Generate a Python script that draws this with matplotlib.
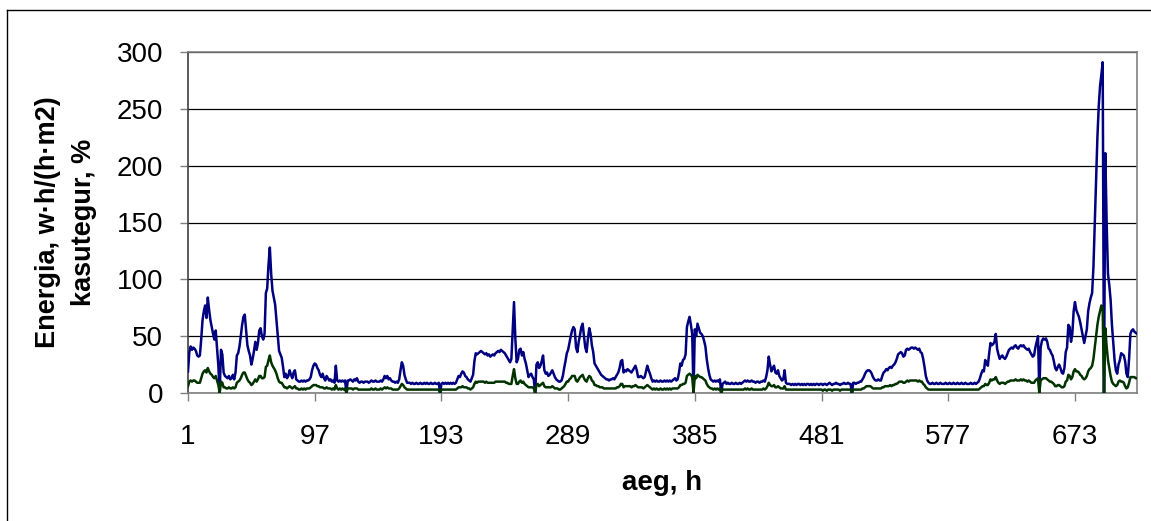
import numpy as np
import matplotlib
matplotlib.use("Agg")
import matplotlib.pyplot as plt
from matplotlib.lines import Line2D

plt.rcParams['font.family'] = ['Liberation Sans', 'DejaVu Sans']

# hourly energy, w·h/(h·m2) -- one row per day
energia = [
    19, 36, 41, 38, 40, 39, 37, 33, 32, 33, 47, 64, 72, 77, 66, 84, 73, 64, 58, 52, 47, 55, 40, 24,
    0, 38, 34, 18, 15, 14, 13, 15, 12, 13, 16, 12, 18, 33, 35, 41, 50, 60, 67, 69, 56, 42, 37, 33,
    25, 30, 37, 45, 38, 44, 55, 57, 50, 47, 52, 88, 92, 113, 128, 105, 90, 84, 78, 64, 50, 37, 34, 31,
    23, 14, 17, 13, 15, 20, 16, 13, 18, 20, 12, 11, 10, 10, 11, 10, 11, 10, 11, 11, 12, 14, 20, 24,
    26, 25, 22, 20, 16, 14, 17, 13, 11, 15, 13, 11, 12, 10, 11, 9, 24, 11, 10, 11, 10, 11, 10, 11,
    0, 11, 11, 12, 11, 10, 12, 11, 13, 10, 9, 10, 10, 9, 10, 10, 10, 9, 10, 11, 10, 10, 11, 10,
    10, 10, 11, 10, 12, 15, 13, 15, 12, 13, 11, 10, 10, 9, 10, 9, 12, 20, 27, 24, 16, 12, 9, 9,
    9, 8, 9, 8, 8, 9, 8, 8, 9, 8, 8, 9, 8, 9, 8, 8, 9, 8, 8, 9, 8, 8, 9, 0,
    8, 9, 8, 9, 8, 9, 8, 9, 8, 9, 8, 9, 12, 15, 14, 17, 19, 18, 15, 14, 12, 11, 10, 13,
    16, 28, 35, 34, 35, 36, 37, 36, 35, 34, 35, 33, 34, 32, 33, 34, 33, 35, 36, 37, 36, 38, 37, 36,
    35, 33, 31, 29, 27, 30, 55, 80, 48, 27, 30, 38, 39, 33, 36, 30, 26, 20, 14, 16, 17, 14, 12, 0,
    25, 27, 22, 24, 28, 33, 20, 17, 18, 15, 16, 18, 20, 17, 14, 12, 11, 10, 10, 11, 15, 22, 28, 35,
    38, 44, 50, 55, 58, 56, 40, 36, 45, 51, 58, 61, 50, 40, 36, 48, 57, 52, 42, 36, 26, 24, 22, 20,
    18, 16, 15, 14, 13, 12, 12, 11, 12, 12, 13, 12, 14, 16, 18, 22, 28, 29, 18, 20, 19, 21, 20, 19,
    18, 20, 22, 24, 20, 14, 14, 15, 14, 13, 14, 19, 24, 20, 17, 13, 10, 11, 10, 11, 10, 10, 11, 10,
    10, 11, 10, 11, 10, 11, 10, 11, 12, 13, 11, 12, 18, 26, 24, 29, 30, 34, 58, 63, 67, 60, 52, 0,
    56, 50, 61, 57, 53, 52, 50, 46, 41, 30, 22, 16, 12, 11, 10, 11, 10, 11, 10, 12, 0, 8, 9, 10,
    8, 9, 8, 8, 9, 8, 8, 9, 8, 8, 9, 8, 9, 10, 11, 10, 11, 10, 10, 11, 10, 10, 9, 10,
    10, 9, 10, 10, 11, 10, 14, 20, 32, 25, 19, 22, 24, 18, 17, 20, 15, 13, 11, 12, 20, 9, 8, 8,
    8, 7, 8, 7, 8, 7, 8, 8, 7, 8, 7, 8, 7, 8, 8, 7, 8, 7, 8, 7, 8, 8, 7, 8,
    8, 7, 8, 8, 7, 8, 9, 8, 7, 8, 8, 9, 8, 8, 7, 8, 8, 9, 8, 8, 9, 8, 8, 0,
    9, 9, 8, 9, 9, 10, 10, 12, 14, 17, 19, 20, 20, 19, 17, 14, 12, 11, 11, 12, 11, 11, 15, 18,
    19, 21, 20, 22, 23, 22, 24, 25, 27, 30, 34, 35, 36, 35, 32, 33, 38, 39, 38, 39, 40, 40, 39, 40,
    39, 38, 39, 36, 35, 30, 23, 15, 11, 9, 8, 8, 9, 8, 8, 9, 8, 8, 9, 8, 8, 8, 9, 8,
    8, 9, 8, 8, 9, 8, 8, 9, 8, 8, 9, 8, 8, 9, 8, 8, 8, 9, 8, 8, 9, 8, 9, 10,
    13, 17, 20, 19, 29, 26, 24, 35, 44, 42, 43, 45, 52, 39, 34, 30, 32, 33, 31, 30, 32, 35, 38, 39,
    40, 39, 41, 42, 40, 39, 41, 42, 41, 42, 40, 39, 38, 39, 36, 34, 32, 33, 40, 45, 50, 0, 40, 46,
    48, 47, 48, 45, 39, 38, 35, 33, 28, 22, 20, 23, 25, 22, 18, 17, 22, 36, 40, 60, 58, 45, 52, 72,
    80, 73, 70, 67, 62, 56, 50, 44, 50, 56, 72, 79, 84, 88, 111, 149, 187, 225, 252, 270, 280, 291, 0, 211,
    150, 105, 95, 82, 60, 45, 29, 20, 17, 25, 29, 35, 34, 33, 28, 17, 14, 30, 52, 55, 56, 54, 53, 52,
]

# hourly efficiency, %
kasutegur = [
    6, 10, 11, 10, 11, 11, 10, 9, 9, 9, 13, 17, 19, 20, 18, 22, 19, 17, 16, 14, 13, 15, 11, 7,
    0, 10, 9, 5, 5, 4, 4, 5, 4, 4, 5, 4, 5, 9, 10, 11, 13, 16, 18, 18, 15, 12, 10, 9,
    7, 8, 10, 12, 10, 12, 15, 15, 13, 13, 14, 23, 24, 29, 33, 27, 24, 22, 20, 17, 13, 10, 9, 9,
    7, 5, 5, 4, 5, 6, 5, 4, 5, 6, 4, 4, 3, 3, 4, 3, 4, 3, 4, 4, 4, 5, 6, 7,
    7, 7, 6, 6, 5, 5, 5, 4, 4, 5, 4, 4, 4, 3, 4, 3, 7, 4, 3, 4, 3, 4, 3, 4,
    0, 4, 4, 4, 4, 3, 4, 4, 4, 3, 3, 3, 3, 3, 3, 3, 3, 3, 3, 4, 3, 3, 4, 3,
    3, 3, 4, 3, 4, 5, 4, 5, 4, 4, 4, 3, 3, 3, 3, 3, 4, 6, 8, 7, 5, 4, 3, 3,
    3, 3, 3, 3, 3, 3, 3, 3, 3, 3, 3, 3, 3, 3, 3, 3, 3, 3, 3, 3, 3, 3, 3, 0,
    3, 3, 3, 3, 3, 3, 3, 3, 3, 3, 3, 3, 4, 5, 5, 5, 6, 5, 5, 5, 4, 4, 3, 4,
    5, 8, 10, 9, 10, 10, 10, 10, 10, 9, 10, 9, 9, 9, 9, 9, 9, 10, 10, 10, 10, 10, 10, 10,
    10, 9, 9, 8, 8, 8, 15, 21, 13, 8, 8, 10, 11, 9, 10, 8, 7, 6, 5, 5, 5, 5, 4, 0,
    7, 8, 6, 7, 8, 9, 6, 5, 5, 5, 5, 5, 6, 5, 4, 4, 4, 3, 3, 4, 5, 6, 8, 10,
    10, 12, 13, 15, 15, 15, 11, 10, 12, 14, 15, 16, 13, 11, 10, 13, 15, 14, 11, 10, 7, 7, 6, 6,
    5, 5, 5, 4, 4, 4, 4, 4, 4, 4, 4, 4, 4, 5, 5, 6, 8, 8, 5, 6, 6, 6, 6, 6,
    5, 6, 6, 7, 6, 5, 5, 5, 5, 4, 5, 6, 7, 6, 5, 4, 3, 4, 3, 4, 3, 3, 4, 3,
    3, 4, 3, 4, 3, 4, 3, 4, 4, 4, 4, 4, 5, 7, 7, 8, 8, 9, 15, 16, 17, 16, 14, 0,
    15, 13, 16, 15, 14, 14, 13, 12, 11, 8, 6, 5, 4, 4, 3, 4, 3, 4, 3, 4, 0, 3, 3, 3,
    3, 3, 3, 3, 3, 3, 3, 3, 3, 3, 3, 3, 3, 3, 4, 3, 4, 3, 3, 4, 3, 3, 3, 3,
    3, 3, 3, 3, 4, 3, 4, 6, 9, 7, 6, 6, 7, 5, 5, 6, 5, 4, 4, 4, 6, 3, 3, 3,
    3, 3, 3, 3, 3, 3, 3, 3, 3, 3, 3, 3, 3, 3, 3, 3, 3, 3, 3, 3, 3, 3, 3, 3,
    3, 2, 3, 3, 2, 3, 3, 3, 2, 3, 3, 3, 3, 3, 2, 3, 3, 3, 3, 3, 3, 3, 3, 0,
    3, 3, 3, 3, 3, 3, 3, 4, 4, 5, 6, 6, 6, 6, 5, 4, 4, 4, 4, 4, 4, 4, 5, 5,
    6, 6, 6, 6, 7, 6, 7, 7, 8, 8, 9, 10, 10, 10, 9, 9, 10, 11, 10, 11, 11, 11, 11, 11,
    11, 10, 11, 10, 10, 8, 7, 5, 4, 3, 3, 3, 3, 3, 3, 3, 3, 3, 3, 3, 3, 3, 3, 3,
    3, 3, 3, 3, 3, 3, 3, 3, 3, 3, 3, 3, 3, 3, 3, 3, 3, 3, 3, 3, 3, 3, 3, 3,
    4, 5, 6, 6, 8, 7, 7, 9, 12, 11, 12, 12, 14, 11, 9, 8, 9, 9, 9, 8, 9, 10, 10, 11,
    11, 11, 11, 12, 11, 11, 11, 12, 11, 12, 11, 11, 10, 11, 10, 9, 9, 9, 11, 12, 13, 0, 11, 12,
    13, 13, 13, 12, 11, 10, 10, 9, 8, 6, 6, 7, 7, 6, 5, 5, 6, 10, 11, 16, 15, 12, 14, 19,
    21, 19, 19, 18, 16, 15, 13, 12, 13, 15, 19, 21, 22, 24, 30, 40, 50, 60, 67, 72, 77, 75, 0, 57,
    41, 29, 22, 15, 10, 8, 7, 6, 7, 10, 11, 10, 10, 9, 6, 4, 5, 9, 14, 14, 14, 14, 13, 13,
]

x_ticks = [1, 97, 193, 289, 385, 481, 577, 673]
y_ticks = [0, 50, 100, 150, 200, 250, 300]

W, H = 1151, 521
fig = plt.figure(figsize=(W / 100, H / 100), dpi=100)
ax = fig.add_axes([188 / W, 1 - 393 / H, (1137 - 188) / W, (393 - 52) / H])

hours = np.arange(1, len(energia) + 1)
ax.plot(hours, energia, color='#000080', lw=1.8, zorder=3)
ax.plot(np.arange(1, len(kasutegur) + 1), kasutegur, color='#003300', lw=1.8, zorder=4)

ax.set_xlim(1, 720)
ax.set_ylim(0, 300)
ax.set_xticks(x_ticks)
ax.set_yticks(y_ticks)
ax.tick_params(axis='both', labelsize=20, colors='#808080', labelcolor='black',
               direction='out', length=6, width=1)
ax.tick_params(axis='x', pad=16)
ax.tick_params(axis='y', pad=12)

ax.yaxis.grid(True, color='black', lw=0.9)
ax.set_axisbelow(True)

for side in ['top', 'right', 'bottom']:
    ax.spines[side].set_color('#808080')
ax.spines['left'].set_color('#404040')
for s in ax.spines.values():
    s.set_linewidth(1.2)

fig.text(66 / W, 1 - 222 / H, "Energia, w·h/(h·m2)\nkasutegur, %", rotation=90,
         ha='center', va='center', multialignment='center',
         fontsize=19.5, fontweight='bold', linespacing=1.5)
fig.text(662 / W, 1 - 483 / H, "aeg, h", ha='center', va='center',
         fontsize=20, fontweight='bold')

# outer chart frame (left and top edges)
fx, fy = 7.5 / W, 1 - 9.5 / H
fig.add_artist(Line2D([fx, fx], [0, fy], color='black', lw=1))
fig.add_artist(Line2D([fx, 1], [fy, fy], color='black', lw=1))

fig.savefig('out.png', dpi=100)
